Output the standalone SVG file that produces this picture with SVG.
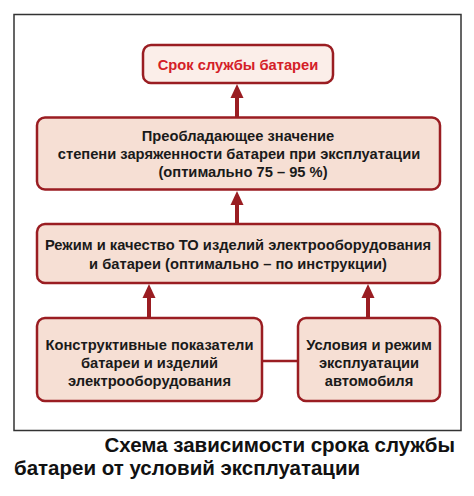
<svg xmlns="http://www.w3.org/2000/svg" width="474" height="496" viewBox="0 0 474 496">
<style>
.box{fill:#f6dfd4;stroke:#9a1d22;stroke-width:2.5}
.top{fill:#fbeee9;stroke:#9a1d22;stroke-width:2.5}
.t{font-family:"Liberation Sans",Arial,sans-serif;font-weight:bold;font-size:14.7px;fill:#1a1a1a;text-anchor:middle}
.red{fill:#d42027}
.cap{font-family:"Liberation Sans",Arial,sans-serif;font-weight:bold;font-size:20.5px;fill:#111}
.ln{stroke:#9a1d22;stroke-width:4;fill:none}
.hd{fill:#9a1d22}
</style>
<rect x="14" y="14.5" width="447" height="416" fill="#fff" stroke="#333" stroke-width="1.5"/>
<g id="connectors">
<line class="ln" x1="237" y1="117" x2="237" y2="96"/>
<polygon class="hd" points="237,84 230.5,98 243.5,98"/>
<line class="ln" x1="237" y1="224" x2="237" y2="203"/>
<polygon class="hd" points="237,191 230.5,205 243.5,205"/>
<line class="ln" x1="149" y1="318" x2="149" y2="296"/>
<polygon class="hd" points="149,284 142.5,298 155.5,298"/>
<line class="ln" x1="368" y1="318" x2="368" y2="296"/>
<polygon class="hd" points="368,284 361.5,298 374.5,298"/>
<line x1="262" y1="361" x2="298" y2="361" stroke="#9a1d22" stroke-width="2.5"/>
</g>
<g id="n1">
<rect class="top" x="143" y="45" width="190" height="38" rx="8"/>
<text class="t red" x="238" y="69.5">Срок службы батареи</text>
</g>
<g id="n2">
<rect class="box" x="37" y="117.5" width="403" height="72" rx="8"/>
<text class="t" x="238" y="140.5">Преобладающее значение</text>
<text class="t" x="239" y="158.5">степени заряженности батареи при эксплуатации</text>
<text class="t" x="243" y="176.5">(оптимально 75 – 95 %)</text>
</g>
<g id="n3">
<rect class="box" x="37" y="224" width="403" height="59" rx="8"/>
<text class="t" x="238" y="250">Режим и качество ТО изделий электрооборудования</text>
<text class="t" x="238" y="268.5">и батареи (оптимально – по  инструкции)</text>
</g>
<g id="n4">
<rect class="box" x="37" y="318" width="225" height="83" rx="8"/>
<text class="t" x="149.5" y="349.5">Конструктивные показатели</text>
<text class="t" x="149.5" y="367.5">батареи и изделий</text>
<text class="t" x="149.5" y="385.5">электрооборудования</text>
</g>
<g id="n5">
<rect class="box" x="298" y="318" width="142" height="83" rx="8"/>
<text class="t" x="369" y="349.5">Условия и режим</text>
<text class="t" x="369" y="367.5">эксплуатации</text>
<text class="t" x="369" y="385.5">автомобиля</text>
</g>
<text class="cap" x="455" y="452" text-anchor="end">Схема зависимости срока службы</text>
<text class="cap" x="14" y="475">батареи от условий эксплуатации</text>
</svg>
